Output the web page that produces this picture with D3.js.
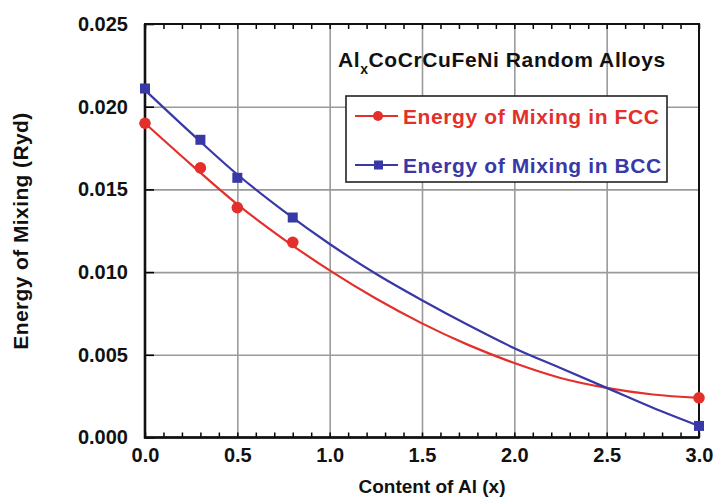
<!DOCTYPE html>
<html>
<head>
<meta charset="utf-8">
<script src="https://cdn.jsdelivr.net/npm/d3@7"></script>
<style>
  body { margin: 0; background: #fff; }
  svg { font-family: "Liberation Sans", Arial, sans-serif; font-weight: bold; }
</style>
</head>
<body>
<svg id="chart" width="715" height="497"></svg>
<script>
// data
let alContent = [0, 0.3, 0.5, 0.8, 3.0];
let fccEnergy = [0.0190, 0.0163, 0.0139, 0.0118, 0.0024];
let bccEnergy = [0.0211, 0.0180, 0.0157, 0.0133, 0.0007];

// fitted curves, read at every 0.25
let fitX   = [0, 0.25, 0.5, 0.75, 1.0, 1.25, 1.5, 1.75, 2.0, 2.25, 2.5, 2.75, 3.0];
let fccFit = [0.0190, 0.0165, 0.0141, 0.0120, 0.0101, 0.0084, 0.0069, 0.0056, 0.0045, 0.0036, 0.0030, 0.0026, 0.0024];
let bccFit = [0.0210, 0.0184, 0.0159, 0.0137, 0.0117, 0.0099, 0.0083, 0.0068, 0.0054, 0.0042, 0.0030, 0.0018, 0.0007];

let xTicks = [0, 0.5, 1.0, 1.5, 2.0, 2.5, 3.0];
let xMinor = d3.range(0, 31).map(function(i) { return i / 10; });
let yTicks = [0, 0.005, 0.010, 0.015, 0.020, 0.025];

let legendNames = ["Energy of Mixing in FCC", "Energy of Mixing in BCC"];

let red = "#e3302a", blue = "#3838a6";

// plot box
let margin = {top: 24, right: 16, bottom: 59.5, left: 145},
    width = 715 - margin.left - margin.right,
    height = 497 - margin.top - margin.bottom;

let x = d3.scaleLinear().domain([0, 3]).range([0, width]);
let y = d3.scaleLinear().domain([0, 0.025]).range([height, 0]);

let svg = d3.select("#chart")
  .append("g")
    .attr("transform", "translate(" + margin.left + "," + margin.top + ")");

// grid
svg.append("g")
    .attr("class", "grid")
    .attr("transform", "translate(0," + height + ")")
    .call(d3.axisBottom(x).tickValues(xTicks.slice(1, -1)).tickSize(-height).tickFormat(""));
svg.append("g")
    .attr("class", "grid")
    .call(d3.axisLeft(y).tickValues(yTicks.slice(1, -1)).tickSize(-width).tickFormat(""));
svg.selectAll(".grid .domain").remove();
svg.selectAll(".grid line").attr("stroke", "#9a9a9a").attr("stroke-width", 1.6);

// minor ticks top and bottom, major ticks left
svg.append("g")
    .attr("transform", "translate(0," + height + ")")
    .call(d3.axisBottom(x).tickValues(xMinor).tickSize(-5).tickFormat(""))
    .call(function(g) { g.select(".domain").remove(); })
    .selectAll("line").attr("stroke-width", 1.5);
svg.append("g")
    .call(d3.axisTop(x).tickValues(xMinor).tickSize(-5).tickFormat(""))
    .call(function(g) { g.select(".domain").remove(); })
    .selectAll("line").attr("stroke-width", 1.5);
svg.append("g")
    .call(d3.axisLeft(y).tickValues(yTicks).tickSize(-9).tickFormat(""))
    .call(function(g) { g.select(".domain").remove(); })
    .selectAll("line").attr("stroke-width", 1.6);

// tick labels
svg.append("g")
    .attr("class", "lab")
    .attr("transform", "translate(0," + height + ")")
    .call(d3.axisBottom(x).tickValues(xTicks).tickSize(0).tickPadding(10).tickFormat(d3.format(".1f")));
svg.append("g")
    .attr("class", "lab")
    .call(d3.axisLeft(y).tickValues(yTicks).tickSize(0).tickPadding(17).tickFormat(d3.format(".3f")));
svg.selectAll(".lab .domain").remove();
svg.selectAll(".lab text")
    .attr("font-family", "Liberation Sans, Arial, sans-serif")
    .attr("font-weight", "bold")
    .attr("font-size", 20)
    .attr("fill", "#111");

// frame
svg.append("rect")
    .attr("width", width).attr("height", height)
    .attr("fill", "none").attr("stroke", "#111").attr("stroke-width", 2);
svg.append("line")
    .attr("x1", 0).attr("x2", 0).attr("y1", 0).attr("y2", height + 1)
    .attr("stroke", "#111").attr("stroke-width", 2.6);
svg.append("line")
    .attr("x1", -1).attr("x2", width).attr("y1", height).attr("y2", height)
    .attr("stroke", "#111").attr("stroke-width", 2.6);

// title
let title = svg.append("text")
    .attr("x", 338 - margin.left).attr("y", 67 - margin.top)
    .attr("font-size", 21).attr("letter-spacing", 0.6).attr("fill", "#111");
title.append("tspan").text("Al");
title.append("tspan").attr("font-size", 14).attr("dy", 7).text("x");
title.append("tspan").attr("dy", -7).text("CoCrCuFeNi Random Alloys");

// legend
let lg = svg.append("g").attr("transform", "translate(" + (346 - margin.left) + "," + (96 - margin.top) + ")");
lg.append("rect")
    .attr("width", 321).attr("height", 86)
    .attr("fill", "#fff").attr("stroke", "#222").attr("stroke-width", 1.6);

let line = d3.line()
    .x(function(d) { return x(d[0]); })
    .y(function(d) { return y(d[1]); })
    .curve(d3.curveMonotoneX);

let series = [
  {name: legendNames[0], color: red, fit: fccFit, pts: fccEnergy, shape: "circle"},
  {name: legendNames[1], color: blue, fit: bccFit, pts: bccEnergy, shape: "square"}
];

series.forEach(function(s, i) {
  svg.append("path")
      .datum(d3.zip(fitX, s.fit))
      .attr("fill", "none")
      .attr("stroke", s.color)
      .attr("stroke-width", 2.2)
      .attr("d", line);

  let pts = d3.zip(alContent, s.pts);
  if (s.shape === "circle") {
    svg.selectAll(".c" + i).data(pts).enter().append("circle")
        .attr("cx", function(d) { return x(d[0]); })
        .attr("cy", function(d) { return y(d[1]); })
        .attr("r", 5.8)
        .attr("fill", s.color);
  } else {
    svg.selectAll(".s" + i).data(pts).enter().append("rect")
        .attr("x", function(d) { return x(d[0]) - 5; })
        .attr("y", function(d) { return y(d[1]) - 5; })
        .attr("width", 10).attr("height", 10)
        .attr("fill", s.color);
  }

  // legend entry
  let ly = 20 + i * 49;
  lg.append("line")
      .attr("x1", 9).attr("x2", 52).attr("y1", ly).attr("y2", ly)
      .attr("stroke", s.color).attr("stroke-width", 2);
  if (s.shape === "circle") {
    lg.append("circle").attr("cx", 32).attr("cy", ly).attr("r", 5).attr("fill", s.color);
  } else {
    lg.append("rect").attr("x", 28).attr("y", ly - 4.5).attr("width", 9).attr("height", 9).attr("fill", s.color);
  }
  lg.append("text")
      .attr("x", 57).attr("y", ly).attr("dy", "0.36em")
      .attr("font-size", 21).attr("letter-spacing", 0.6)
      .attr("fill", s.color)
      .text(s.name);
});

// axis titles
d3.select("#chart").append("text")
    .attr("x", 432).attr("y", 493)
    .attr("text-anchor", "middle")
    .attr("font-size", 19).attr("fill", "#111")
    .text("Content of Al (x)");
d3.select("#chart").append("text")
    .attr("transform", "translate(28,231) rotate(-90)")
    .attr("text-anchor", "middle")
    .attr("font-size", 21).attr("letter-spacing", 0.4).attr("fill", "#111")
    .text("Energy of Mixing (Ryd)");
</script>
</body>
</html>
